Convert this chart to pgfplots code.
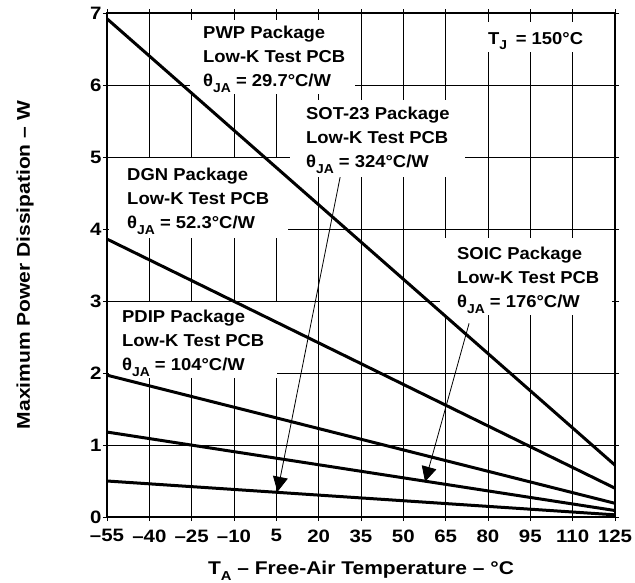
\documentclass[border=0pt]{standalone}
\usepackage{fontspec}
\setmainfont{Liberation Sans}[FakeStretch=1.07]
\newfontfamily\widefont{Liberation Sans}[FakeStretch=1.14]
\usepackage{pgfplots}
\pgfplotsset{compat=1.18}
\usetikzlibrary{arrows.meta}
\newcommand\sub[1]{\raisebox{-0.33em}{\fontsize{13}{13}\selectfont #1}}
\newcommand\lblfont{\fontsize{17.3}{24}\selectfont\bfseries}
\begin{document}
\begin{tikzpicture}
\begin{axis}[
  scale only axis, width=508bp, height=504bp,
  xmin=-55, xmax=125, ymin=0, ymax=7,
  xtick={-55,-40,-25,-10,5,20,35,50,65,80,95,110,125},
  xticklabels={–55,–40,–25,–10,5,20,35,50,65,80,95,110,125},
  ytick={0,1,2,3,4,5,6,7},
  yticklabels={0,1,2,3,4,5,6,7},
  grid=major,
  major grid style={black, line width=0.9bp},
  axis line style={black, line width=1.8bp},
  tick align=outside, major tick length=4bp,
  tick style={black, line width=0.9bp},
  tick label style={font=\widefont\fontsize{18}{18}\selectfont\bfseries},
  xticklabel style={yshift=-5bp},
  yticklabel style={xshift=2bp},
  xlabel={T\sub{A} – Free-Air Temperature – °C},
  ylabel={Maximum Power Dissipation – W},
  label style={font=\widefont\fontsize{18.5}{18.5}\selectfont\bfseries},
  x label style={at={(axis description cs:0.5,-0.1131)}, anchor=base},
  y label style={at={(axis description cs:-0.1614,0.5)}, anchor=center},
]
% white backgrounds behind annotations
\fill[white] (axis cs:-25.6,6.90) rectangle (axis cs:32.9,5.875);
\fill[white] (axis cs:9.8,5.79) rectangle (axis cs:71.9,4.72);
\fill[white] (axis cs:-54.2,4.99) rectangle (axis cs:9.1,3.875);
\fill[white] (axis cs:-54.2,2.985) rectangle (axis cs:5.2,1.93);
\fill[white] (axis cs:63.0,3.875) rectangle (axis cs:123.9,2.81);
\fill[white] (axis cs:77.9,6.875) rectangle (axis cs:119.7,6.46);

\addplot[black, line width=3bp] coordinates {(-55,6.92) (125,0.72)};
\addplot[black, line width=3bp] coordinates {(-55,3.86) (125,0.40)};
\addplot[black, line width=3bp] coordinates {(-55,1.97) (125,0.19)};
\addplot[black, line width=3bp] coordinates {(-55,1.18) (125,0.09)};
\addplot[black, line width=3bp] coordinates {(-55,0.50) (125,0.03)};

\node[anchor=north west, inner sep=0pt, align=left, font=\lblfont] at (axis cs:-20.98,6.82)
  {PWP Package\\Low-K Test PCB\\θ\sub{JA} = 29.7°C/W};
\node[anchor=north west, inner sep=0pt, align=left, font=\lblfont] at (axis cs:15.5,5.694)
  {SOT-23 Package\\Low-K Test PCB\\θ\sub{JA} = 324°C/W};
\node[anchor=north west, inner sep=0pt, align=left, font=\lblfont] at (axis cs:-47.9,4.847)
  {DGN Package\\Low-K Test PCB\\θ\sub{JA} = 52.3°C/W};
\node[anchor=north west, inner sep=0pt, align=left, font=\lblfont] at (axis cs:-49.7,2.875)
  {PDIP Package\\Low-K Test PCB\\θ\sub{JA} = 104°C/W};
\node[anchor=north west, inner sep=0pt, align=left, font=\lblfont] at (axis cs:69.0,3.75)
  {SOIC Package\\Low-K Test PCB\\θ\sub{JA} = 176°C/W};
\node[anchor=north west, inner sep=0pt, align=left, font=\lblfont] at (axis cs:80.0,6.736)
  {T\sub{J}\hspace{0.5em}= 150°C};

\draw[black, line width=0.8bp, -{Triangle[length=15bp,width=15bp]}] (axis cs:27.6,4.72) -- (axis cs:5.4,0.35);
\draw[black, line width=0.8bp, -{Triangle[length=15bp,width=15bp]}] (axis cs:73.3,2.69) -- (axis cs:57.7,0.49);
\end{axis}
\pgfresetboundingbox
\path (current axis.south west) ++(-107bp,-66bp) rectangle ++(635bp,583bp);
\end{tikzpicture}
\end{document}
